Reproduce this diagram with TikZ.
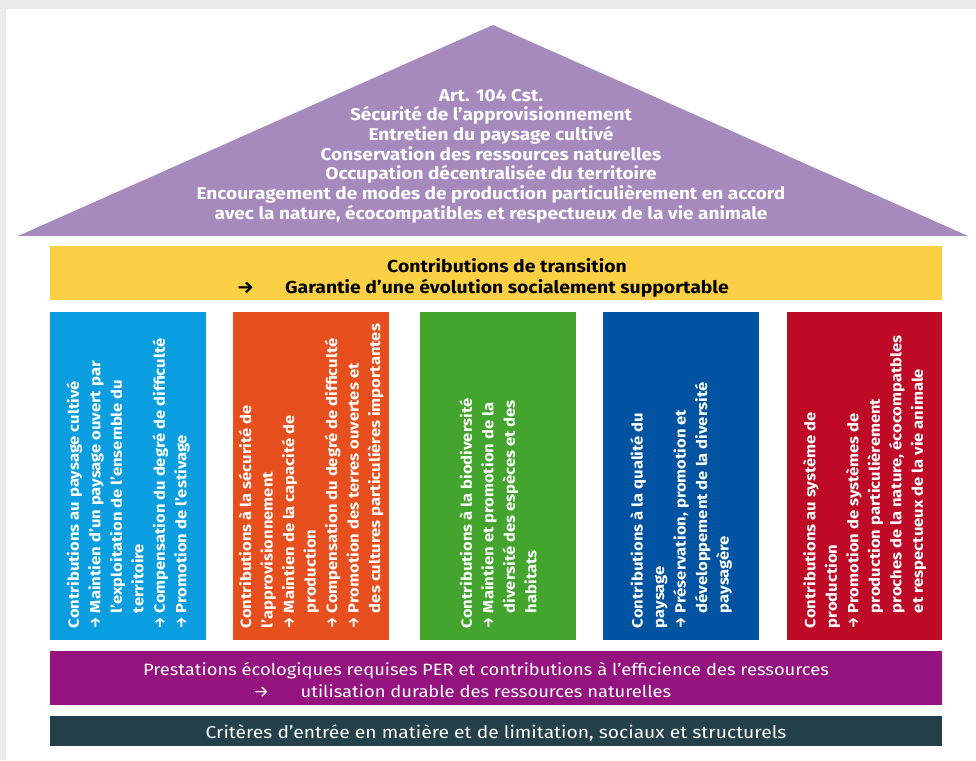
\documentclass[tikz,border=0pt]{standalone}
\usepackage{fontspec}
\usepackage{graphicx}
\setmainfont{Fira Sans}[FakeStretch=1.12]
\usetikzlibrary{positioning}
\definecolor{cGray}{HTML}{EBEBEB}
\definecolor{cRoof}{HTML}{A68ABE}
\definecolor{cYellow}{HTML}{FCD045}
\definecolor{cBlue}{HTML}{0A9EE0}
\definecolor{cOrange}{HTML}{E84F1E}
\definecolor{cGreen}{HTML}{43A42E}
\definecolor{cDarkBlue}{HTML}{0053A0}
\definecolor{cRed}{HTML}{BE0A26}
\definecolor{cPurple}{HTML}{94137F}
\definecolor{cTeal}{HTML}{24404A}
\newcommand{\ar}{\makebox[15pt][l]{\scalebox{0.75}[1]{→}}}
\newcommand{\ind}{\hspace*{15pt}}
\newcommand{\lar}{\llap{→\hspace{31pt}}}
\tikzset{
  pillar/.style={inner sep=0pt, minimum width=156pt, minimum height=328pt},
  bar/.style={inner sep=0pt, minimum width=892pt},
  coltext/.style={rotate=90, anchor=west, align=left, text=white, inner sep=0pt,
    font=\bfseries\fontsize{14.8}{21.5}\selectfont},
  bartext/.style={align=center, inner sep=0pt, font=\fontsize{16.4}{22}\selectfont}
}
\begin{document}
\begin{tikzpicture}[x=1pt, y=-1pt]
        \useasboundingbox (0,0) rectangle (976,760);
        % background
        \fill[cGray] (0,0) rectangle (976,760);
        \fill[white] (6,9) rectangle (976,760);

        % roof
        \fill[cRoof] (18,236) -- (493,25) -- (968,236) -- cycle;
        \node[align=center, text=white, inner sep=0pt,
              font=\bfseries\fontsize{17}{19.7}\selectfont] (art) at (491,156)
              {Art. 104 Cst.\\ Sécurité de l’approvisionnement\\ Entretien du paysage cultivé\\
               Conservation des ressources naturelles\\ Occupation décentralisée du territoire\\
               Encouragement de modes de production particulièrement en accord\\
               avec la nature, écocompatibles et respectueux de la vie animale};

        % transition
        \node[bar, fill=cYellow, minimum height=54pt] (trans) at (496,273) {};
        \node[bartext, font=\bfseries\fontsize{17.3}{21}\selectfont] (transtxt) at (507,278)
              {Contributions de transition\\ \lar Garantie d’une évolution socialement supportable};

        % pillars
        \node[pillar, fill=cBlue] (blue) at (128,476) {};
        \node[pillar, fill=cOrange] (orange) at (311,476) {};
        \node[pillar, fill=cGreen] (green) at (498,476) {};
        \node[pillar, fill=cDarkBlue] (dblue) at (681,476) {};
        \node[pillar, fill=cRed, minimum width=155pt] (red) at (864.5,476) {};

        \node[coltext] (blue txt) at ([yshift=12pt]blue.south)
              {Contributions au paysage cultivé\\ \ar Maintien d’un paysage ouvert par\\
               \ind l’exploitation de l’ensemble du\\ \ind territoire\\
               \ar Compensation du degré de difficulté\\ \ar Promotion de l’estivage};
        \node[coltext] (orange txt) at ([yshift=12pt]orange.south)
              {Contributions à la sécurité de\\ l’approvisionnement\\
               \ar Maintien de la capacité de\\ \ind production\\
               \ar Compensation du degré de difficulté\\ \ar Promotion des terres ouvertes et\\
               \ind des cultures particulières importantes};
        \node[coltext] (green txt) at ([yshift=12pt]green.south)
              {Contributions à la biodiversité\\ \ar Maintien et promotion de la\\
               \ind diversité des espèces et des\\ \ind habitats};
        \node[coltext] (dblue txt) at ([yshift=12pt]dblue.south)
              {Contributions à la qualité du\\ paysage\\ \ar Préservation, promotion et\\
               \ind développement de la diversité\\ \ind paysagère};
        \node[coltext] (red txt) at ([yshift=12pt]red.south)
              {Contributions au système de\\ production\\ \ar Promotion de systèmes de\\
               \ind production particulièrement\\ \ind proches de la nature, écocompatbles\\
               \ind et respectueux de la vie animale};

        % base
        \node[bar, fill=cPurple, minimum height=54pt] (per) at (496,678) {};
        \node[bartext, text=white] (pertxt) at (486,680)
              {Prestations écologiques requises PER et contributions à l’efficience des ressources\\
               \lar utilisation durable des ressources naturelles};
        \node[bar, fill=cTeal, minimum height=30pt] (crit) at (496,731) {};
        \node[bartext, text=white, font=\fontsize{17.2}{22}\selectfont] (crittxt) at (496,733)
              {Critères d’entrée en matière et de limitation, sociaux et structurels};
\end{tikzpicture}
\end{document}
